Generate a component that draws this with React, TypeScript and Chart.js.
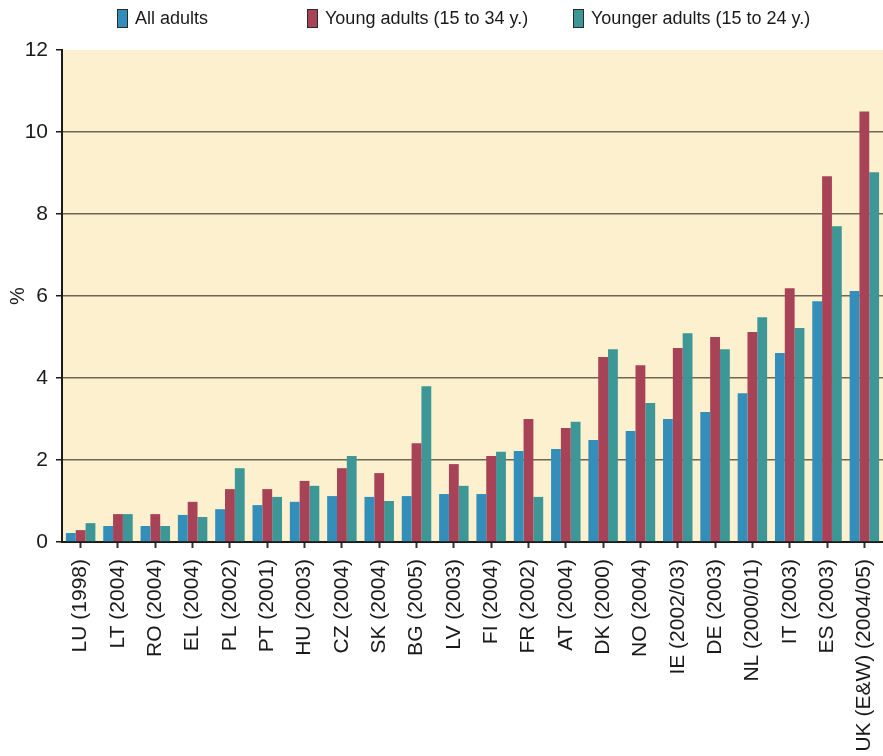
import React, { useEffect, useRef } from 'react';
import { Chart, registerables } from 'chart.js';

Chart.register(...registerables);

const categories = [
  'LU (1998)', 'LT (2004)', 'RO (2004)', 'EL (2004)', 'PL (2002)', 'PT (2001)',
  'HU (2003)', 'CZ (2004)', 'SK (2004)', 'BG (2005)', 'LV (2003)', 'FI (2004)',
  'FR (2002)', 'AT (2004)', 'DK (2000)', 'NO (2004)', 'IE (2002/03)', 'DE (2003)',
  'NL (2000/01)', 'IT (2003)', 'ES (2003)', 'UK (E&W) (2004/05)',
];

const allAdults = [
  0.22, 0.39, 0.39, 0.66, 0.8, 0.9, 0.98, 1.12, 1.1, 1.12, 1.17, 1.17,
  2.22, 2.27, 2.49, 2.71, 3.0, 3.17, 3.63, 4.61, 5.87, 6.12,
];
const youngAdults = [
  0.29, 0.68, 0.68, 0.98, 1.29, 1.29, 1.49, 1.8, 1.68, 2.41, 1.9, 2.1,
  3.0, 2.78, 4.51, 4.31, 4.73, 5.0, 5.12, 6.19, 8.92, 10.5,
];
const youngerAdults = [
  0.46, 0.68, 0.39, 0.61, 1.8, 1.1, 1.37, 2.1, 1.0, 3.8, 1.37, 2.2,
  1.1, 2.93, 4.7, 3.39, 5.09, 4.7, 5.48, 5.22, 7.7, 9.02,
];

const seriesLabels = ['All adults', 'Young adults (15 to 34 y.)', 'Younger adults (15 to 24 y.)'];
const seriesColors = ['#338fba', '#a84257', '#3c9796'];

const yMin = 0;
const yMax = 12;
const yStep = 2;
const yTitle = '%';

const FONT = '"Liberation Sans", Arial, Helvetica, sans-serif';

const bgPlugin = {
  id: 'areaBg',
  beforeDraw(chart: any) {
    const { ctx, chartArea } = chart;
    ctx.save();
    ctx.fillStyle = '#fdf0cf';
    ctx.fillRect(chartArea.left, chartArea.top, chartArea.right - chartArea.left, chartArea.bottom - chartArea.top);
    ctx.restore();
  },
};

const legendPlugin = {
  id: 'customLegend',
  afterDraw(chart: any, _args: any, opts: any) {
    const { ctx } = chart;
    ctx.save();
    chart.data.datasets.forEach((ds: any, i: number) => {
      const x = opts.xs[i];
      ctx.fillStyle = ds.backgroundColor;
      ctx.fillRect(x, opts.top, opts.boxW, opts.boxH);
      ctx.strokeStyle = '#2a2a2a';
      ctx.lineWidth = 1;
      ctx.strokeRect(x + 0.5, opts.top + 0.5, opts.boxW - 1, opts.boxH - 1);
      ctx.fillStyle = '#1a1a1a';
      ctx.font = `18px ${FONT}`;
      ctx.textBaseline = 'middle';
      ctx.textAlign = 'left';
      ctx.fillText(ds.label, x + opts.boxW + opts.gap, opts.top + opts.boxH / 2 + 1);
    });
    ctx.restore();
  },
};

export default function App() {
  const ref = useRef<HTMLCanvasElement>(null);

  useEffect(() => {
    document.body.style.margin = '0';
    const canvas = ref.current;
    if (!canvas) return;
    const values = [allAdults, youngAdults, youngerAdults];
    const chart = new Chart(canvas, {
      type: 'bar',
      data: {
        labels: categories,
        datasets: values.map((v, i) => ({
          label: seriesLabels[i],
          data: v,
          backgroundColor: seriesColors[i],
          borderWidth: 0,
          categoryPercentage: 0.79,
          barPercentage: 1.0,
        })),
      },
      options: {
        animation: false,
        responsive: true,
        maintainAspectRatio: false,
        layout: { padding: { top: 50, left: 0, right: 0, bottom: 0 } },
        plugins: {
          legend: { display: false },
          tooltip: { enabled: false },
          customLegend: {
            xs: [117, 307, 573],
            top: 9,
            boxW: 11,
            boxH: 19,
            gap: 7,
          },
        } as any,
        scales: {
          x: {
            grid: {
              drawOnChartArea: false,
              drawTicks: true,
              tickLength: 6,
              tickColor: '#333',
              tickWidth: 2,
              offset: false,
            },
            border: { color: '#1a1a1a', width: 2 },
            ticks: {
              autoSkip: false,
              maxRotation: 90,
              minRotation: 90,
              padding: 11,
              color: '#1a1a1a',
              font: { family: FONT, size: 21 },
            },
            afterFit(scale: any) {
              scale.height = 214;
              scale.paddingRight = 0;
              scale.paddingLeft = 0;
            },
          },
          y: {
            min: yMin,
            max: yMax,
            ticks: {
              stepSize: yStep,
              padding: 8,
              color: '#1a1a1a',
              font: { family: FONT, size: 21 },
            },
            grid: {
              color: (c: any) => (c.tick && (c.tick.value === yMax || c.tick.value === yMin) ? 'rgba(0,0,0,0)' : '#6e6654'),
              lineWidth: 1.5,
              tickColor: '#1a1a1a',
              tickLength: 6,
              tickWidth: 1.5,
            },
            border: { color: '#1a1a1a', width: 2 },
            title: {
              display: true,
              text: yTitle,
              color: '#1a1a1a',
              font: { family: FONT, size: 20 },
              padding: { top: 6, bottom: 0 },
            },
            afterFit(scale: any) {
              scale.width = 62;
              scale.paddingTop = 0;
              scale.paddingBottom = 0;
            },
          },
        },
      },
      plugins: [bgPlugin, legendPlugin],
    });
    return () => chart.destroy();
  }, []);

  return (
    <div style={{ width: 883, height: 756, position: 'relative' }}>
      <canvas ref={ref} />
    </div>
  );
}
